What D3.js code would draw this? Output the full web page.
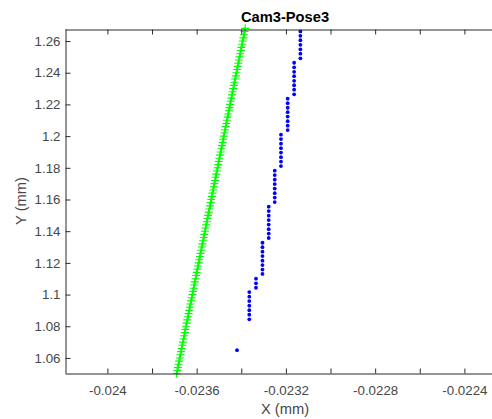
<!DOCTYPE html>
<html>
<head>
<meta charset="utf-8">
<script src="https://cdn.jsdelivr.net/npm/d3@7"></script>
<style>
  html, body { margin: 0; padding: 0; background: #fff; }
  svg { display: block; }
  text { font-family: "Liberation Sans", Arial, Helvetica, sans-serif; }
</style>
</head>
<body>
<svg id="chart" width="492" height="419"></svg>
<script>
// ---- data ----
const title = "Cam3-Pose3";
const xLabel = "X (mm)";
const yLabel = "Y (mm)";

const xTickValues = [-0.024, -0.0238, -0.0236, -0.0234, -0.0232, -0.023, -0.0228, -0.0226, -0.0224];
const xTickLabelValues = [-0.024, -0.0236, -0.0232, -0.0228, -0.0224];
const xTickLabels = ["-0.024", "-0.0236", "-0.0232", "-0.0228", "-0.0224"];
const yTickValues = [1.06, 1.08, 1.1, 1.12, 1.14, 1.16, 1.18, 1.2, 1.22, 1.24, 1.26];
const yTickLabels = ["1.06", "1.08", "1.1", "1.12", "1.14", "1.16", "1.18", "1.2", "1.22", "1.24", "1.26"];

// green series (line with + markers)
const greenY = [
  1.050, 1.052, 1.054, 1.056, 1.058, 1.060, 1.062, 1.064, 1.066, 1.068,
  1.070, 1.072, 1.074, 1.076, 1.078, 1.080, 1.082, 1.084, 1.086, 1.088,
  1.090, 1.092, 1.094, 1.096, 1.098, 1.100, 1.102, 1.104, 1.106, 1.108,
  1.110, 1.112, 1.114, 1.116, 1.118, 1.120, 1.122, 1.124, 1.126, 1.128,
  1.130, 1.132, 1.134, 1.136, 1.138, 1.140, 1.142, 1.144, 1.146, 1.148,
  1.150, 1.152, 1.154, 1.156, 1.158, 1.160, 1.162, 1.164, 1.166, 1.168,
  1.170, 1.172, 1.174, 1.176, 1.178, 1.180, 1.182, 1.184, 1.186, 1.188,
  1.190, 1.192, 1.194, 1.196, 1.198, 1.200, 1.202, 1.204, 1.206, 1.208,
  1.210, 1.212, 1.214, 1.216, 1.218, 1.220, 1.222, 1.224, 1.226, 1.228,
  1.230, 1.232, 1.234, 1.236, 1.238, 1.240, 1.242, 1.244, 1.246, 1.248,
  1.250, 1.252, 1.254, 1.256, 1.258, 1.260, 1.262, 1.264, 1.266, 1.268
];
const greenX = [
  -0.0236897, -0.0236869, -0.0236841, -0.0236812, -0.0236784, -0.0236756, -0.0236728, -0.0236700, -0.0236671, -0.0236643,
  -0.0236615, -0.0236587, -0.0236558, -0.0236530, -0.0236502, -0.0236474, -0.0236446, -0.0236417, -0.0236389, -0.0236361,
  -0.0236333, -0.0236305, -0.0236276, -0.0236248, -0.0236220, -0.0236192, -0.0236163, -0.0236135, -0.0236107, -0.0236079,
  -0.0236051, -0.0236022, -0.0235994, -0.0235966, -0.0235938, -0.0235910, -0.0235881, -0.0235853, -0.0235825, -0.0235797,
  -0.0235769, -0.0235740, -0.0235712, -0.0235684, -0.0235656, -0.0235628, -0.0235599, -0.0235571, -0.0235543, -0.0235515,
  -0.0235486, -0.0235458, -0.0235430, -0.0235402, -0.0235374, -0.0235345, -0.0235317, -0.0235289, -0.0235261, -0.0235233,
  -0.0235204, -0.0235176, -0.0235148, -0.0235120, -0.0235091, -0.0235063, -0.0235035, -0.0235007, -0.0234979, -0.0234950,
  -0.0234922, -0.0234894, -0.0234866, -0.0234838, -0.0234809, -0.0234781, -0.0234753, -0.0234725, -0.0234697, -0.0234668,
  -0.0234640, -0.0234612, -0.0234584, -0.0234555, -0.0234527, -0.0234499, -0.0234471, -0.0234443, -0.0234414, -0.0234386,
  -0.0234358, -0.0234330, -0.0234302, -0.0234273, -0.0234245, -0.0234217, -0.0234189, -0.0234160, -0.0234132, -0.0234104,
  -0.0234076, -0.0234048, -0.0234019, -0.0233991, -0.0233963, -0.0233935, -0.0233907, -0.0233878, -0.0233850, -0.0233822
];

// blue series (dots)
const blueX = [
  -0.023419,
  -0.023364, -0.023364, -0.023364, -0.023364, -0.023364, -0.023364, -0.023364,
  -0.023334, -0.023334, -0.023334,
  -0.023305, -0.023305, -0.023305, -0.023305, -0.023305, -0.023305, -0.023305, -0.023305,
  -0.023277, -0.023277, -0.023277, -0.023277, -0.023277, -0.023277, -0.023277, -0.023277,
  -0.023250, -0.023250, -0.023250, -0.023250, -0.023250, -0.023250, -0.023250, -0.023250,
  -0.023222, -0.023222, -0.023222, -0.023222, -0.023222, -0.023222, -0.023222, -0.023222,
  -0.023192, -0.023192, -0.023192, -0.023192, -0.023192, -0.023192, -0.023192, -0.023192,
  -0.023163, -0.023163, -0.023163, -0.023163, -0.023163, -0.023163, -0.023163, -0.023163,
  -0.023135, -0.023135, -0.023135, -0.023135, -0.023135, -0.023135, -0.023135
];
const blueY = [
  1.0649,
  1.0844, 1.0873, 1.0901, 1.0930, 1.0959, 1.0987, 1.1016,
  1.1043, 1.1071, 1.1100,
  1.1130, 1.1158, 1.1186, 1.1214, 1.1243, 1.1271, 1.1299, 1.1327,
  1.1357, 1.1385, 1.1413, 1.1442, 1.1470, 1.1498, 1.1527, 1.1555,
  1.1584, 1.1612, 1.1640, 1.1669, 1.1697, 1.1725, 1.1754, 1.1782,
  1.1811, 1.1839, 1.1867, 1.1896, 1.1924, 1.1952, 1.1981, 1.2009,
  1.2038, 1.2066, 1.2094, 1.2123, 1.2151, 1.2179, 1.2208, 1.2236,
  1.2264, 1.2293, 1.2321, 1.2349, 1.2378, 1.2406, 1.2434, 1.2463,
  1.2491, 1.2520, 1.2548, 1.2576, 1.2605, 1.2633, 1.2661
];

const xDomain = [-0.02419, -0.022218];
const yDomain = [1.0505, 1.2676];

// ---- layout ----
const svg = d3.select("#chart");
const W = 492, H = 419;
const mLeft = 65, mRight = 505, mTop = 29, mBottom = 373;
const axisColor = "#2b2b2b";
const labelColor = "#474747";

svg.append("rect").attr("width", W).attr("height", H).attr("fill", "#fff");

const x = d3.scaleLinear().domain(xDomain).range([mLeft, mRight]);
const y = d3.scaleLinear().domain(yDomain).range([mBottom, mTop]);

svg.append("clipPath").attr("id", "plotclip")
  .append("rect").attr("x", mLeft).attr("y", mTop).attr("width", mRight - mLeft).attr("height", mBottom - mTop);

// green line
const greenData = greenX.map((v, i) => ({ x: v, y: greenY[i] }));
const plot = svg.append("g");
plot.append("path")
  .datum(greenData)
  .attr("clip-path", "url(#plotclip)")
  .attr("fill", "none")
  .attr("stroke", "#00ff00")
  .attr("stroke-width", 1.8)
  .attr("d", d3.line().x(d => x(d.x)).y(d => y(d.y)));

const ms = 4;
const inDom = d => d.y >= yDomain[0] - 0.0006 && d.y <= yDomain[1] + 0.0006;
plot.append("g").selectAll("path.plus")
  .data(greenData.filter(inDom))
  .join("path")
  .attr("fill", "none")
  .attr("stroke", "#00ff00")
  .attr("stroke-width", 1.1)
  .attr("d", d => {
    const cx = x(d.x), cy = y(d.y);
    return `M${cx - ms},${cy}H${cx + ms}M${cx},${cy - ms}V${cy + ms}`;
  });

// blue dots
const blueData = blueX.map((v, i) => ({ x: v, y: blueY[i] }));
plot.append("g").selectAll("circle")
  .data(blueData)
  .join("circle")
  .attr("cx", d => x(d.x))
  .attr("cy", d => y(d.y))
  .attr("r", 1.9)
  .attr("fill", "#0000ff");

// ---- axes ----
function styleAxis(g) {
  g.select(".domain").attr("stroke", axisColor);
  g.selectAll(".tick line").attr("stroke", axisColor);
  g.selectAll(".tick text")
    .attr("fill", labelColor)
    .attr("font-size", "13.3px")
    .attr("font-family", "'Liberation Sans', Arial, sans-serif");
}

const xFmt = v => {
  const i = xTickLabelValues.findIndex(t => Math.abs(t - v) < 1e-9);
  return i >= 0 ? xTickLabels[i] : "";
};

svg.append("g")
  .attr("transform", `translate(0,${mBottom + 0.5})`)
  .call(d3.axisBottom(x).tickValues(xTickValues).tickFormat(xFmt).tickSize(-5).tickSizeOuter(0).tickPadding(12))
  .call(styleAxis);

svg.append("g")
  .attr("transform", `translate(0,${mTop + 0.5})`)
  .call(d3.axisTop(x).tickValues(xTickValues).tickFormat("").tickSize(-5).tickSizeOuter(0))
  .call(styleAxis);

svg.append("g")
  .attr("transform", `translate(${mLeft + 0.5},0)`)
  .call(d3.axisLeft(y).tickValues(yTickValues).tickFormat((v, i) => yTickLabels[i]).tickSize(-5).tickSizeOuter(0).tickPadding(5))
  .call(styleAxis);

// ---- titles ----
svg.append("text")
  .attr("x", (mLeft + mRight) / 2)
  .attr("y", 22)
  .attr("text-anchor", "middle")
  .attr("font-size", "14.7px")
  .attr("font-weight", "bold")
  .attr("fill", "#000")
  .text(title);

svg.append("text")
  .attr("x", (mLeft + mRight) / 2)
  .attr("y", 414)
  .attr("text-anchor", "middle")
  .attr("font-size", "14.7px")
  .attr("fill", labelColor)
  .text(xLabel);

svg.append("text")
  .attr("transform", `translate(26,${(mTop + mBottom) / 2}) rotate(-90)`)
  .attr("text-anchor", "middle")
  .attr("font-size", "14.7px")
  .attr("fill", labelColor)
  .text(yLabel);
</script>
</body>
</html>
